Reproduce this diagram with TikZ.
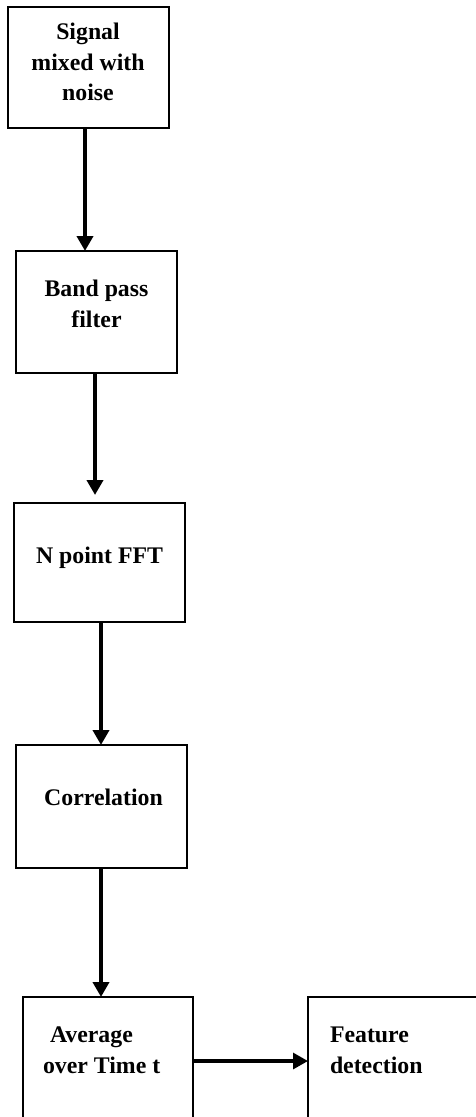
\documentclass[tikz,border=0pt]{standalone}
\usepackage{fontspec}
\setmainfont{Liberation Serif}
\usetikzlibrary{arrows.meta}
\begin{document}
\begin{tikzpicture}[x=1pt,y=-1pt,
  box/.style={draw, line width=2pt, inner sep=0pt, outer sep=0pt, fill=white},
  lbl/.style={inner sep=0pt, outer sep=0pt, font=\fontsize{23.8pt}{30.5pt}\selectfont\bfseries},
  arr/.style={line width=3.8pt, -{Triangle[length=15pt,width=16pt]}}]
\useasboundingbox (0,0) rectangle (476,1117);
\clip (0,0) rectangle (476,1117);
% boxes
\node[box, minimum width=161pt, minimum height=121pt] (b1) at (88.5,67.5) {};
\node[box, minimum width=161pt, minimum height=122pt] (b2) at (96.5,312) {};
\node[box, minimum width=171pt, minimum height=119pt] (b3) at (99.5,562.5) {};
\node[box, minimum width=171pt, minimum height=123pt] (b4) at (101.5,806.5) {};
\node[box, minimum width=170pt, minimum height=122pt] (b5) at (108,1058) {};
\node[box, minimum width=170pt, minimum height=122pt] (b6) at (393,1058) {};
% texts (base anchor = baseline of last line)
\node[lbl, align=center, anchor=base] (t1) at (88,100.5) {Signal\\mixed with\\noise};
\node[lbl, align=center, anchor=base] (t2) at (96.5,327) {Band pass\\filter};
\node[lbl, anchor=base] (t3) at (99.5,563) {N point FFT};
\node[lbl, anchor=base] (t4) at (103.5,805) {Correlation};
\node[lbl, align=left, anchor=base west] (t5) at (43,1073) {\hspace*{7pt}Average\\over Time t};
\node[lbl, align=left, anchor=base west] (t6) at (330,1073) {Feature\\detection};
% connectors
\draw[arr] ([xshift=-3.5pt]b1.south) -- ([xshift=-3.5pt]b1.south |- b2.north);
\draw[arr] ([xshift=-1.5pt]b2.south) -- ([xshift=-1.5pt,yshift=8pt]b2.south |- b3.north);
\draw[arr] ([xshift=1.5pt]b3.south) -- ([xshift=1.5pt]b3.south |- b4.north);
\draw[arr] ([xshift=-0.5pt]b4.south) -- ([xshift=-0.5pt]b4.south |- b5.north);
\draw[arr, line width=3.2pt] ([yshift=-3pt]b5.east) -- ([yshift=-3pt]b5.east -| b6.west);
\end{tikzpicture}
\end{document}
